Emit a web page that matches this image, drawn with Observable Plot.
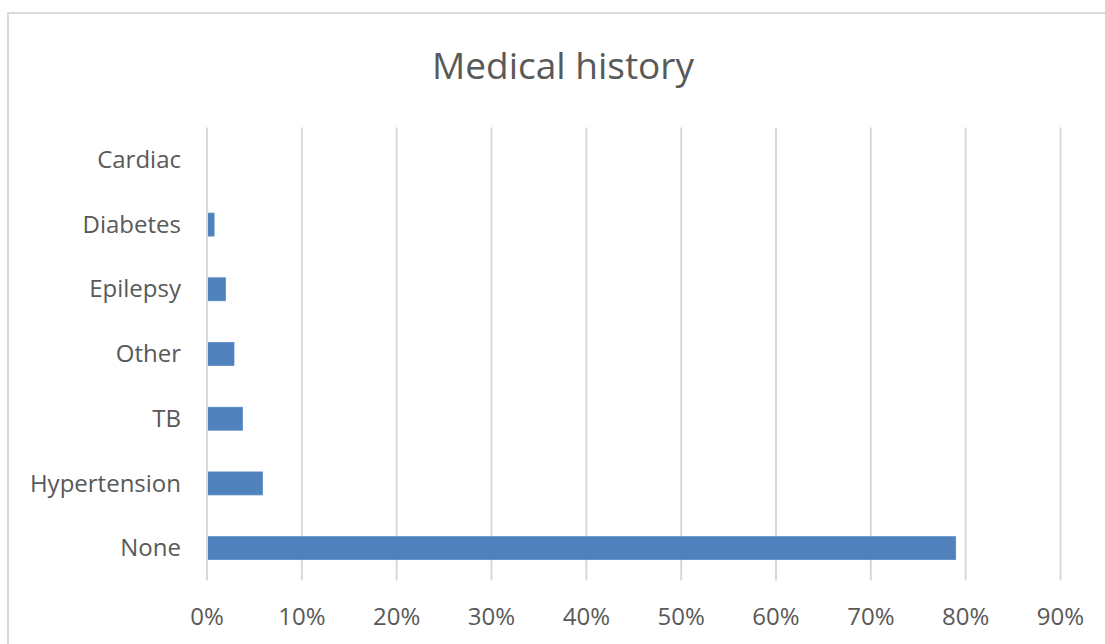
<!DOCTYPE html>
<html>
<head>
<meta charset="utf-8">
<script src="https://cdn.jsdelivr.net/npm/d3@7"></script>
<script src="https://cdn.jsdelivr.net/npm/@observablehq/plot@0.6"></script>
<style>
  html, body { margin: 0; padding: 0; background: #fff; }
  #page { position: relative; width: 1105px; height: 644px; overflow: hidden; font-family: "Open Sans", sans-serif; }
  #frame { position: absolute; left: 7px; top: 12px; width: 1120px; height: 700px; border: 2px solid #d9d9d9; box-sizing: border-box; }
  #title { position: absolute; left: 0; top: 0; width: 1126px; height: 100px; line-height: 130px; text-align: center; font-size: 37px; color: #595959; }
  #chart { position: absolute; left: 0; top: 100px; }
</style>
</head>
<body>
<div id="page">
  <div id="frame"></div>
  <div id="title">Medical history</div>
  <div id="chart"></div>
</div>
<script>
// Conditions, listed top to bottom
const conditions = ["Cardiac", "Diabetes", "Epilepsy", "Other", "TB", "Hypertension", "None"];
// Share of patients with each condition (%)
const shares = [0, 0.8, 2, 2.9, 3.8, 5.9, 79];
// Percentage ticks along the value axis
const percentTicks = [0, 10, 20, 30, 40, 50, 60, 70, 80, 90];

const rows = conditions.map((c, i) => ({condition: c, share: shares[i]}));

const plot = Plot.plot({
  width: 1105,
  height: 544,
  marginLeft: 206.5,
  marginRight: 45,
  marginTop: 27.5,
  marginBottom: 63.5,
  style: {fontFamily: "Open Sans, sans-serif", background: "transparent"},
  x: {domain: [0, 90], ticks: percentTicks},
  y: {domain: conditions, paddingInner: 0.645, paddingOuter: 0.3225, round: false},
  marks: [
    Plot.ruleX(percentTicks.filter(t => t > 0), {stroke: "#d9d9d9", strokeWidth: 2}),
    Plot.barX(rows, {x: "share", y: "condition", fill: "#4f81bd", stroke: "#5b8cc6", strokeWidth: 0.8, insetLeft: 1}),
    Plot.ruleX([0], {stroke: "#d9d9d9", strokeWidth: 2}),
    Plot.axisY({tickSize: 0, tickPadding: 26, fontSize: 24, color: "#595959", label: null}),
    Plot.axisX({ticks: percentTicks, tickSize: 0, tickPadding: 27, fontSize: 24, color: "#595959", tickFormat: d => d + "%", label: null})
  ]
});
document.getElementById("chart").appendChild(plot);
</script>
</body>
</html>
